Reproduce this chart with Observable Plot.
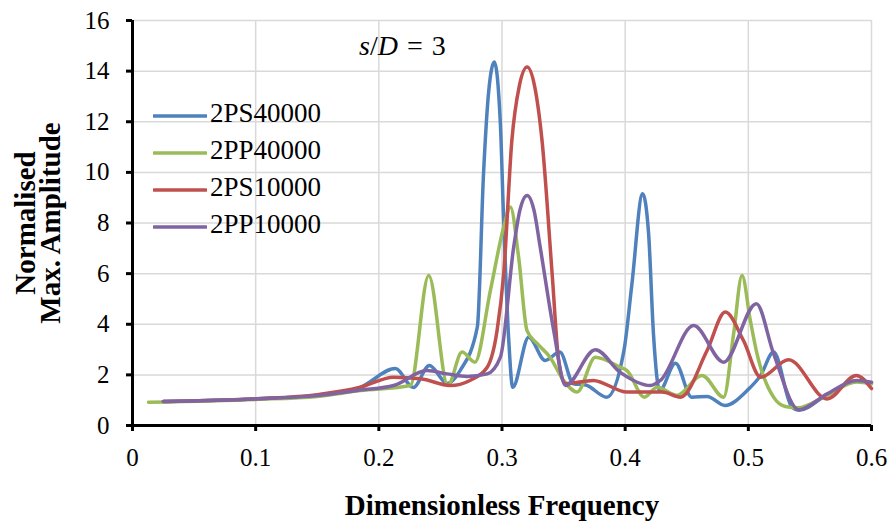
<!DOCTYPE html>
<html><head><meta charset="utf-8">
<script src="https://cdn.jsdelivr.net/npm/d3@7"></script>
<script src="https://cdn.jsdelivr.net/npm/@observablehq/plot@0.6"></script>
<style>
body{margin:0;background:#fff;}
#wrap{position:relative;width:891px;height:522px;font-family:"Liberation Serif",serif;color:#000;}
.leg{position:absolute;left:153px;height:30px;line-height:30px;font-size:27px;white-space:nowrap;}
.leg svg{vertical-align:middle;margin-right:3px;}
#ttl{position:absolute;left:359px;top:30px;font-size:28px;white-space:nowrap;word-spacing:2px;}
</style></head><body><div id="wrap"></div>
<script>
const seriesNames = ["2PS40000", "2PP40000", "2PS10000", "2PP10000"];
const seriesColors = ["#4F81BD", "#9BBB59", "#C0504D", "#8064A2"];
const xTicks = [0, 0.1, 0.2, 0.3, 0.4, 0.5, 0.6];
const yTicks = [0, 2, 4, 6, 8, 10, 12, 14, 16];

const fPS40000 = [0.025, 0.1, 0.15, 0.185, 0.2135, 0.228, 0.241, 0.2556, 0.266, 0.28, 0.285, 0.2892, 0.2938, 0.2987, 0.301, 0.3055, 0.3087, 0.3217, 0.335, 0.347, 0.358, 0.368, 0.385, 0.399, 0.4055, 0.4142, 0.419, 0.423, 0.428, 0.4408, 0.454, 0.4665, 0.481, 0.499, 0.51, 0.5205, 0.5354, 0.541, 0.564, 0.588, 0.6];
const vPS40000 = [0.95, 1.05, 1.2, 1.51, 2.25, 1.5, 2.37, 1.66, 2.17, 3.9, 9.95, 13.2, 14.36, 11.9, 8.6, 3.36, 1.51, 3.49, 2.57, 2.9, 1.65, 1.6, 1.12, 2.96, 5.6, 9.16, 7.6, 3.6, 1.38, 2.46, 1.12, 1.15, 0.79, 1.38, 1.98, 2.9, 0.72, 0.6, 1.22, 1.75, 1.68];

const fPP40000 = [0.013, 0.1, 0.15, 0.185, 0.2256, 0.2405, 0.256, 0.2676, 0.278, 0.2906, 0.3014, 0.3068, 0.3135, 0.3203, 0.3285, 0.339, 0.35, 0.361, 0.3758, 0.396, 0.4015, 0.4156, 0.426, 0.442, 0.4624, 0.48, 0.488, 0.4949, 0.5016, 0.507, 0.5205, 0.53, 0.54, 0.564, 0.588, 0.6];
const vPP40000 = [0.92, 1.03, 1.15, 1.38, 1.58, 5.93, 1.58, 2.9, 2.5, 5.34, 7.84, 8.63, 6.65, 3.75, 3.24, 2.7, 1.78, 1.32, 2.7, 2.3, 2.17, 1.12, 1.51, 1.19, 1.98, 1.12, 3.6, 5.93, 4.15, 2.84, 1.12, 0.75, 0.7, 1.2, 1.72, 1.65];

const fPS10000 = [0.025, 0.1, 0.15, 0.185, 0.212, 0.234, 0.258, 0.274, 0.288, 0.296, 0.3014, 0.308, 0.314, 0.3204, 0.3265, 0.3325, 0.3407, 0.346, 0.3515, 0.374, 0.4015, 0.43, 0.445, 0.4665, 0.4813, 0.496, 0.51, 0.5327, 0.564, 0.5877, 0.6];
const vPS10000 = [0.95, 1.06, 1.22, 1.51, 1.91, 1.85, 1.58, 1.78, 2.3, 3.75, 6.0, 11.26, 13.4, 14.16, 13.4, 11.26, 6.0, 2.57, 1.65, 1.78, 1.32, 1.32, 1.12, 2.96, 4.48, 3.36, 1.91, 2.6, 1.05, 1.98, 1.46];

const fPP10000 = [0.025, 0.1, 0.15, 0.185, 0.212, 0.239, 0.2554, 0.2716, 0.288, 0.2987, 0.3095, 0.3145, 0.3204, 0.326, 0.331, 0.342, 0.3515, 0.3758, 0.396, 0.4205, 0.4286, 0.4556, 0.48, 0.5065, 0.5205, 0.541, 0.564, 0.588, 0.6];
const vPP10000 = [0.95, 1.05, 1.18, 1.4, 1.58, 2.17, 2.04, 1.94, 2.04, 2.7, 7.05, 8.5, 9.09, 8.5, 7.05, 3.75, 1.58, 2.99, 2.1, 1.58, 1.78, 3.95, 2.5, 4.81, 2.84, 0.62, 1.25, 1.78, 1.71];

const fs = [fPS40000, fPP40000, fPS10000, fPP10000];
const vs = [vPS40000, vPP40000, vPS10000, vPP10000];
const data = [];
seriesNames.forEach((name, i) => fs[i].forEach((f, j) => data.push({series: name, f, v: vs[i][j]})));

const FONT = "'Liberation Serif', serif";
const chart = Plot.plot({
  width: 891, height: 522,
  marginLeft: 132, marginRight: 20, marginTop: 20, marginBottom: 97,
  x: {domain: [0, 0.6]},
  y: {domain: [0, 16]},
  color: {domain: seriesNames, range: seriesColors},
  style: {fontFamily: FONT, fontSize: "25px", color: "#000", background: "#fff", overflow: "visible"},
  marks: [
    Plot.gridX(xTicks.filter(d => d > 0), {stroke: "#d9d9d9", strokeOpacity: 1, strokeWidth: 1.5}),
    Plot.gridY(yTicks.filter(d => d > 0), {stroke: "#d9d9d9", strokeOpacity: 1, strokeWidth: 1.5}),
    Plot.axisX(xTicks, {tickSize: 6, tickPadding: 17, tickFormat: d => String(d), label: null, strokeWidth: 3, fontSize: 25}),
    Plot.axisY(yTicks, {tickSize: 6, tickPadding: 17, tickFormat: d => String(d), label: null, strokeWidth: 3, fontSize: 25}),
    Plot.ruleY([0], {stroke: "#000", strokeWidth: 3}),
    Plot.ruleX([0], {stroke: "#000", strokeWidth: 3}),
    Plot.line(data, {x: "f", y: "v", z: "series", stroke: "series", strokeWidth: 3.5, curve: "monotone-x"}),
    Plot.text(["Dimensionless Frequency"], {frameAnchor: "bottom", lineAnchor: "middle", textAnchor: "middle", dy: 80, fontWeight: "bold", fontSize: 29, fill: "#000"}),
    Plot.text(["Normalised\nMax. Amplitude"], {frameAnchor: "left", lineAnchor: "middle", textAnchor: "middle", dx: -93, rotate: -90, fontWeight: "bold", fontSize: 29, lineHeight: 0.85, fill: "#000"})
  ]
});
const wrap = document.getElementById("wrap");
wrap.appendChild(chart);

const ttl = document.createElement("div");
ttl.id = "ttl";
ttl.innerHTML = "<i>s</i>/<i>D</i> = 3";
wrap.appendChild(ttl);

seriesNames.forEach((name, i) => {
  const d = document.createElement("div");
  d.className = "leg";
  d.style.top = (113 + 37 * i - 15) + "px";
  d.innerHTML = `<svg width="54" height="10"><line x1="1" x2="53" y1="5" y2="5" stroke="${seriesColors[i]}" stroke-width="3.5" stroke-linecap="round"/></svg>${name}`;
  wrap.appendChild(d);
});
</script>
</body></html>
